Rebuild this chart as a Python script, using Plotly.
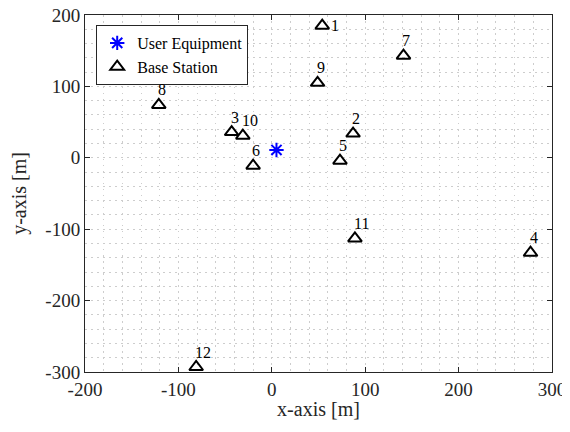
import plotly.graph_objects as go

ue_x = [5]
ue_y = [11]
bs_id = [1, 2, 3, 4, 5, 6, 7, 8, 9, 10, 11, 12]
bs_x = [54, 87, -43, 277, 73, -20, 141, -121, 49, -31, 89, -81]
bs_y = [185, 34, 36, -133, -4, -11, 143, 74, 105, 31, -113, -293]
x_ticks = [-200, -100, 0, 100, 200, 300]
x_ticktext = ["-200", "-100", "0", "100", "200", "300"]
y_ticks = [-300, -200, -100, 0, 100, 200]
y_ticktext = ["-300", "-200", "-100", "0", "100", "200"]

FONT = "Liberation Serif"
AX = "#262626"
GRID = "#cdcdcd"
DASH = "1.5px,4.5px"

fig = go.Figure()
fig.add_trace(go.Scatter(
    x=ue_x, y=ue_y, mode="markers", name="User Equipment",
    marker=dict(symbol="asterisk-open", size=12, color="#0000ff",
                line=dict(color="#0000ff", width=2)),
))
fig.add_trace(go.Scatter(
    x=bs_x, y=bs_y, mode="markers", name="Base Station",
    marker=dict(symbol="triangle-up-open", size=12, color="black",
                line=dict(color="black", width=2)),
))

for i, x, y in zip(bs_id, bs_x, bs_y):
    if y > 175:
        fig.add_annotation(x=x, y=y, text=str(i), showarrow=False,
                           xanchor="left", yanchor="middle", xshift=7, yshift=0,
                           font=dict(family=FONT, size=16, color="black"))
    else:
        fig.add_annotation(x=x, y=y, text=str(i), showarrow=False,
                           xanchor="left", yanchor="middle", xshift=-3, yshift=15,
                           font=dict(family=FONT, size=16, color="black"))

axis_common = dict(
    showline=True, linecolor=AX, linewidth=1, mirror="ticks",
    ticks="inside", ticklen=5, tickcolor=AX, tickwidth=1,
    showgrid=True, gridcolor=GRID, griddash=DASH, gridwidth=1,
    zeroline=False, automargin=False, ticklabeloverflow="allow",
    tickfont=dict(family=FONT, size=19, color=AX),
    minor=dict(dtick=20, showgrid=True, gridcolor=GRID, griddash=DASH,
               gridwidth=1, ticks=""),
)

fig.update_layout(
    width=562, height=412,
    margin=dict(l=77, r=18, t=7, b=48),
    paper_bgcolor="white", plot_bgcolor="white",
    showlegend=True,
    legend=dict(x=0.024, y=0.972, xanchor="left", yanchor="top",
                xref="paper", yref="paper",
                bgcolor="white", bordercolor=AX, borderwidth=1,
                font=dict(family=FONT, size=16, color="black"),
                itemwidth=30, tracegroupgap=0),
    xaxis=dict(range=[-200, 300], tickvals=x_ticks, ticktext=x_ticktext,
               title=dict(text="x-axis [m]", font=dict(family=FONT, size=20, color=AX), standoff=2),
               **axis_common),
    yaxis=dict(range=[-300, 200], tickvals=y_ticks, ticktext=y_ticktext,
               title=dict(text="y-axis [m]", font=dict(family=FONT, size=20, color=AX), standoff=18),
               **axis_common),
)

fig.write_html("out.html")
